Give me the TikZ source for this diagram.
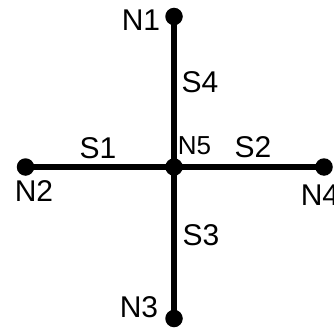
\documentclass[tikz,border=0pt]{standalone}
\usepackage{fontspec}
\setmainfont{Liberation Sans}
\begin{document}
\begin{tikzpicture}[x=1pt,y=-1pt,
  dot/.style={circle,fill=black,draw=none,minimum size=17.5pt,inner sep=0pt},
  lbl/.style={inner sep=0pt,font=\fontsize{30}{33}\selectfont},
  lbls/.style={inner sep=0pt,font=\fontsize{26}{29}\selectfont},
  seg/.style={line width=6pt}]
\useasboundingbox (0,0) rectangle (334,329);
\node[dot] (N5) at (174,167) {};
\node[dot] (N1) at (174,16.5) {};
\node[dot] (N2) at (25.5,167) {};
\node[dot] (N4) at (324,167) {};
\node[dot] (N3) at (174,318.5) {};
\draw[seg] (N5.center) -- (N1.center);
\draw[seg] (N5.center) -- (N2.center);
\draw[seg] (N5.center) -- (N4.center);
\draw[seg] (N5.center) -- (N3.center);
\node[lbl] (tN1) at (141,20) {N1};
\node[lbl] (tN2) at (34,191) {N2};
\node[lbl] (tN3) at (139,307) {N3};
\node[lbl] (tN4) at (320,195) {N4};
\node[lbls] (tN5) at (194.5,146) {N5};
\node[lbl] (tS1) at (98,148) {S1};
\node[lbl] (tS2) at (253,147) {S2};
\node[lbl] (tS3) at (201,235) {S3};
\node[lbl] (tS4) at (200,82.5) {S4};
\end{tikzpicture}
\end{document}
